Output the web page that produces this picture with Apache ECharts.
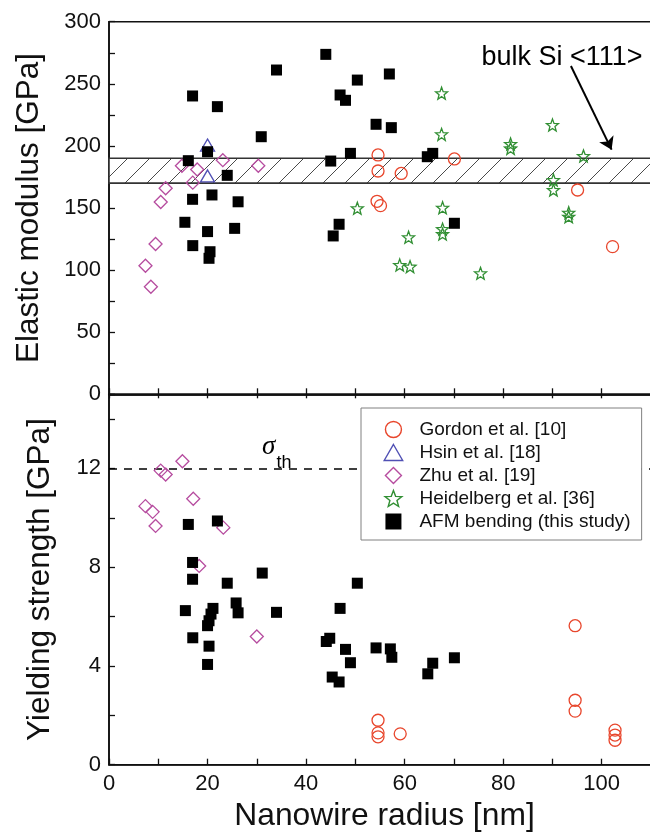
<!DOCTYPE html>
<html>
<head>
<meta charset="utf-8">
<script src="https://cdn.jsdelivr.net/npm/echarts@6/dist/echarts.min.js"></script>
<style>
  html, body { margin: 0; padding: 0; background: #fff; }
  #chart { width: 650px; height: 835px; }
</style>
</head>
<body>
<div id="chart"></div>
<script>
// ---- Data: [radius nm, value] ----
const gordonModulus = [[54.6, 192.7], [54.6, 179.8], [54.4, 155.4], [55.1, 151.9], [59.3, 177.8], [70.1, 189.5], [95.1, 164.5], [102.2, 118.9]];
const gordonStrength = [[54.6, 1.80], [54.6, 1.29], [54.6, 1.13], [59.1, 1.25], [94.6, 5.63], [94.6, 2.61], [94.6, 2.17], [102.7, 1.40], [102.7, 1.20], [102.7, 0.99]];

const hsinModulus = [[20.0, 200.7], [20.0, 175.8]];

const zhuModulus = [[7.4, 103.5], [8.5, 86.6], [9.45, 121], [10.5, 154.8], [11.5, 165.9], [14.8, 184], [17.0, 170.4], [17.9, 181], [23.1, 188.5], [30.3, 184]];
const zhuStrength = [[7.4, 10.47], [8.85, 10.24], [9.45, 9.67], [10.5, 11.91], [11.5, 11.75], [14.9, 12.29], [17.1, 10.77], [18.3, 8.05], [23.2, 9.6], [30.0, 5.19]];

const heidelbergModulus = [[50.4, 149.8], [60.8, 126.4], [59.0, 104.1], [61.1, 102.8], [67.5, 242.4], [67.5, 209.3], [67.7, 150.2], [67.7, 133], [67.7, 129], [75.4, 97.4], [81.5, 201.5], [81.5, 198], [90.0, 216.8], [96.3, 191.9], [90.2, 172.5], [90.2, 164.5], [93.3, 146.2], [93.3, 143]];

const afmModulus = [[16.96, 240.2], [22.0, 231.6], [30.9, 207.4], [20.0, 195.3], [16.1, 188.1], [24.0, 176.3], [16.96, 157], [20.9, 160.5], [26.2, 155], [15.4, 138.5], [20.0, 131], [25.5, 133.6], [17.0, 119.7], [20.5, 114.8], [20.3, 109.5],
  [44.0, 273.7], [34.0, 261.1], [50.4, 253], [56.9, 257.9], [46.9, 241], [48.0, 236.7], [54.2, 217.4], [57.3, 214.7], [49.0, 194], [45.0, 187.8], [46.7, 136.9], [45.5, 127.5], [64.6, 191.3], [65.7, 194], [70.1, 137.7]];
const afmStrength = [[16.1, 9.73], [22.0, 9.87], [16.96, 8.19], [16.96, 7.51], [24.0, 7.35], [31.1, 7.76], [15.5, 6.24], [21.1, 6.33], [20.7, 6.1], [20.3, 5.83], [20.0, 5.63], [25.8, 6.55], [26.2, 6.15], [34.0, 6.17], [17.0, 5.14], [20.3, 4.8], [20.0, 4.06],
  [50.4, 7.35], [46.9, 6.33], [44.8, 5.12], [44.1, 4.99], [48.0, 4.67], [49.0, 4.13], [45.3, 3.55], [46.7, 3.35], [54.2, 4.73], [57.1, 4.69], [57.4, 4.35], [65.7, 4.11], [64.7, 3.68], [70.1, 4.33]];

const seriesNames = ['Gordon et al. [10]', 'Hsin et al. [18]', 'Zhu et al. [19]', 'Heidelberg et al. [36]', 'AFM bending (this study)'];
const bulkModulusBand = [170, 190];   // bulk Si <111> modulus range, GPa
const theoreticalStrength = 12;       // sigma_th, GPa
const radiusTicks = [0, 20, 40, 60, 80, 100];
const modulusTicks = [0, 50, 100, 150, 200, 250, 300];
const strengthTicks = [0, 4, 8, 12];

// ---- Styling ----
const FONT = "'Liberation Sans', Arial, sans-serif";
const INK = '#111';
const COLORS = { gordon: '#e8462c', hsin: '#5050b4', zhu: '#b64c9f', heidel: '#318f33', afm: '#000' };
const SYM = {
  circle: 'circle',
  triangle: 'path://M5 0 L10 8.66 L0 8.66 Z',
  diamond: 'path://M5 0 L10 5 L5 10 L0 5 Z',
  star: 'path://M50 0 L62.34 33.01 L97.55 34.55 L69.97 56.49 L79.39 90.45 L50 71 L20.61 90.45 L30.03 56.49 L2.45 34.55 L37.66 33.01 Z',
  square: 'path://M0 0 H10 V10 H0 Z'
};

// diagonal hatch tile for the bulk band
function hatchTile() {
  const s = 22;
  const c = document.createElement('canvas');
  c.width = s; c.height = s;
  const g = c.getContext('2d');
  g.fillStyle = '#fff';
  g.fillRect(0, 0, s, s);
  g.strokeStyle = '#4a4a4a';
  g.lineWidth = 1;
  g.beginPath();
  g.moveTo(-2, s + 2); g.lineTo(s + 2, -2);
  g.moveTo(-2, 2); g.lineTo(2, -2);
  g.moveTo(s - 2, s + 2); g.lineTo(s + 2, s - 2);
  g.stroke();
  return c;
}

function scatter(name, data, symbol, size, color, panel, filled) {
  return {
    type: 'scatter', name, data, symbol, symbolSize: size,
    xAxisIndex: panel, yAxisIndex: panel, z: 3, silent: true,
    itemStyle: filled
      ? { color: color, opacity: 1, borderWidth: 0 }
      : { color: 'rgba(0,0,0,0)', borderColor: color, borderWidth: 1.3, opacity: 1 }
  };
}

const xAxisCommon = {
  type: 'value', min: 0, max: 110, interval: 10,
  axisLine: { onZero: false, lineStyle: { color: INK, width: 1.6 } },
  axisTick: { inside: true, length: 6, lineStyle: { color: INK, width: 1.3 } },
  splitLine: { show: false }
};

const option = {
  animation: false,
  backgroundColor: '#fff',
  textStyle: { fontFamily: FONT, color: INK },
  grid: [
    { left: 109, top: 21.7, width: 542, height: 372.6, show: true, borderColor: INK, borderWidth: 1.6, outerBoundsMode: 'none', containLabel: false },
    { left: 109, top: 394.3, width: 542, height: 370.4, show: true, borderColor: INK, borderWidth: 1.6, outerBoundsMode: 'none', containLabel: false }
  ],
  xAxis: [
    Object.assign({}, xAxisCommon, { gridIndex: 0, position: 'bottom', axisLabel: { show: false } }),
    Object.assign({}, xAxisCommon, {
      gridIndex: 1, position: 'bottom',
      axisLabel: {
        fontSize: 22, margin: 8, color: INK, fontFamily: FONT,
        formatter: (v) => radiusTicks.indexOf(v) >= 0 ? String(v) : ''
      },
      name: 'Nanowire radius [nm]', nameLocation: 'middle', nameGap: 36,
      nameTextStyle: { fontSize: 31.8, color: INK, fontFamily: FONT, padding: [0, 0, 0, 9] }
    }),
    Object.assign({}, xAxisCommon, { gridIndex: 1, position: 'top', axisLabel: { show: false }, axisTick: { inside: true, length: 4, lineStyle: { color: INK, width: 1.3 } } })
  ],
  yAxis: [
    {
      gridIndex: 0, type: 'value', min: 0, max: 300, interval: 25,
      axisLine: { show: true, lineStyle: { color: INK, width: 1.6 } },
      axisTick: { inside: true, length: 6, lineStyle: { color: INK, width: 1.3 } },
      splitLine: { show: false },
      axisLabel: { fontSize: 22, margin: 8, color: INK, fontFamily: FONT,
        formatter: (v) => modulusTicks.indexOf(v) >= 0 ? String(v) : '' },
      name: 'Elastic modulus [GPa]', nameLocation: 'middle', nameRotate: 90, nameGap: 63.5,
      nameTextStyle: { fontSize: 31.5, color: INK, fontFamily: FONT }
    },
    {
      gridIndex: 1, type: 'value', min: 0, max: 15, interval: 2,
      axisLine: { show: true, lineStyle: { color: INK, width: 1.6 } },
      axisTick: { inside: true, length: 6, lineStyle: { color: INK, width: 1.3 } },
      splitLine: { show: false },
      axisLabel: { fontSize: 22, margin: 8, color: INK, fontFamily: FONT,
        formatter: (v) => strengthTicks.indexOf(v) >= 0 ? String(v) : '' },
      name: 'Yielding strength [GPa]', nameLocation: 'middle', nameRotate: 90, nameGap: 53,
      nameTextStyle: { fontSize: 31.5, color: INK, fontFamily: FONT }
    }
  ],
  legend: {
    orient: 'vertical', left: 361, top: 408, z: 20,
    itemWidth: 42, itemHeight: 16, itemGap: 4,
    padding: [12, 11, 9, 22.5],
    backgroundColor: '#fff', borderColor: '#808080', borderWidth: 1, borderRadius: 0,
    selectedMode: false,
    textStyle: { fontSize: 19, color: INK, fontFamily: FONT },
    itemStyle: { borderWidth: 1.4 },
    data: [
      { name: seriesNames[0], icon: SYM.circle },
      { name: seriesNames[1], icon: SYM.triangle },
      { name: seriesNames[2], icon: SYM.diamond },
      { name: seriesNames[3], icon: SYM.star },
      { name: seriesNames[4], icon: SYM.square }
    ]
  },
  series: [
    // bulk Si <111> band, hatched
    {
      type: 'scatter', data: [], xAxisIndex: 0, yAxisIndex: 0, z: 1, silent: true,
      markArea: {
        silent: true, z: 1,
        itemStyle: { color: { image: hatchTile(), repeat: 'repeat' }, borderColor: '#333', borderWidth: 1.6, opacity: 1 },
        data: [[{ yAxis: bulkModulusBand[0] }, { yAxis: bulkModulusBand[1] }]]
      }
    },
    // arrow + label pointing at the band
    {
      type: 'scatter', data: [], xAxisIndex: 0, yAxisIndex: 0, z: 4, silent: true,
      markLine: {
        silent: true, z: 5, symbol: ['none', 'arrow'], symbolSize: 12,
        lineStyle: { color: '#000', width: 2, type: 'solid', opacity: 1 },
        label: { show: false },
        data: [[{ coord: [93.75, 264.3] }, { coord: [102.0, 197.0] }]]
      },
      markPoint: {
        silent: true, symbol: 'circle', symbolSize: 0,
        data: [{ coord: [75.6, 270.9] }],
        label: { show: true, position: 'right', distance: 0, formatter: 'bulk Si <111>', fontSize: 27, color: '#000', fontFamily: FONT }
      }
    },
    // theoretical strength line
    {
      type: 'scatter', data: [], xAxisIndex: 1, yAxisIndex: 1, z: 1, silent: true,
      markLine: {
        silent: true, z: 1, symbol: ['none', 'none'],
        lineStyle: { color: '#000', width: 1.6, type: [8, 7], opacity: 1 },
        label: { show: false },
        data: [{ yAxis: theoreticalStrength }]
      },
      markPoint: {
        silent: true, z: 2, symbol: 'circle', symbolSize: 0,
        data: [
          { coord: [32.4, 12.85], label: { show: true, position: 'inside', formatter: 'σ', fontSize: 27, fontStyle: 'italic', fontFamily: "'Liberation Serif', 'Times New Roman', serif", color: '#000' } },
          { coord: [35.5, 12.23], label: { show: true, position: 'inside', formatter: 'th', fontSize: 18, fontFamily: FONT, color: '#000' } }
        ]
      }
    },
    scatter(seriesNames[0], gordonModulus, SYM.circle, 12, COLORS.gordon, 0),
    scatter(seriesNames[1], hsinModulus, SYM.triangle, [14, 12], COLORS.hsin, 0),
    scatter(seriesNames[2], zhuModulus, SYM.diamond, 13, COLORS.zhu, 0),
    scatter(seriesNames[3], heidelbergModulus, SYM.star, 12, COLORS.heidel, 0),
    scatter(seriesNames[4], afmModulus, SYM.square, 11, COLORS.afm, 0, true),
    scatter(seriesNames[0], gordonStrength, SYM.circle, 12, COLORS.gordon, 1),
    scatter(seriesNames[2], zhuStrength, SYM.diamond, 13, COLORS.zhu, 1),
    scatter(seriesNames[4], afmStrength, SYM.square, 11, COLORS.afm, 1, true)
  ]
};

const chart = echarts.init(document.getElementById('chart'), null, { renderer: 'canvas' });
chart.setOption(option);
</script>
</body>
</html>
